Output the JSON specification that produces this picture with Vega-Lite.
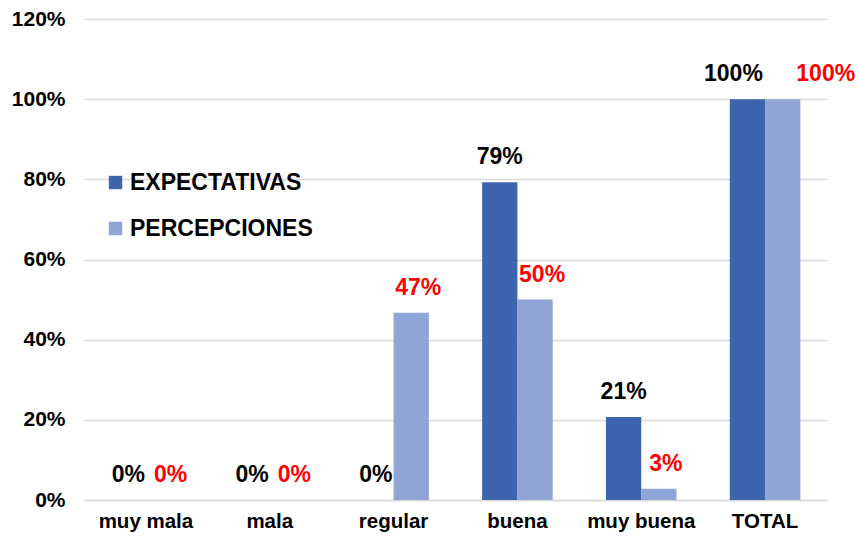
{
  "$schema": "https://vega.github.io/schema/vega-lite/v6.json",
  "autosize": "none",
  "width": 743,
  "height": 481,
  "padding": {"left": 84, "top": 19, "right": 32, "bottom": 37},
  "background": "white",
  "config": {
    "font": "Liberation Sans",
    "view": {"stroke": null}
  },
  "data": {
    "values": [
      {"categoria": "muy mala", "serie": "EXPECTATIVAS", "valor": 0},
      {"categoria": "mala", "serie": "EXPECTATIVAS", "valor": 0},
      {"categoria": "regular", "serie": "EXPECTATIVAS", "valor": 0},
      {"categoria": "buena", "serie": "EXPECTATIVAS", "valor": 0.793},
      {"categoria": "muy buena", "serie": "EXPECTATIVAS", "valor": 0.207},
      {"categoria": "TOTAL", "serie": "EXPECTATIVAS", "valor": 1.0},
      {"categoria": "muy mala", "serie": "PERCEPCIONES", "valor": 0},
      {"categoria": "mala", "serie": "PERCEPCIONES", "valor": 0},
      {"categoria": "regular", "serie": "PERCEPCIONES", "valor": 0.467},
      {"categoria": "buena", "serie": "PERCEPCIONES", "valor": 0.5},
      {"categoria": "muy buena", "serie": "PERCEPCIONES", "valor": 0.028},
      {"categoria": "TOTAL", "serie": "PERCEPCIONES", "valor": 1.0}
    ]
  },
  "encoding": {
    "x": {
      "field": "categoria",
      "type": "nominal",
      "sort": ["muy mala", "mala", "regular", "buena", "muy buena", "TOTAL"],
      "scale": {"paddingInner": 0.43, "paddingOuter": 0.215},
      "axis": {
        "title": null,
        "labelAngle": 0,
        "labelFont": "Liberation Sans",
        "labelFontSize": 20.5,
        "labelFontWeight": "bold",
        "labelColor": "#000000",
        "labelPadding": 11,
        "ticks": false,
        "domainColor": "#d9d9d9",
        "domainWidth": 1.5
      }
    },
    "xOffset": {
      "field": "serie",
      "type": "nominal",
      "sort": ["EXPECTATIVAS", "PERCEPCIONES"],
      "scale": {"paddingInner": 0, "paddingOuter": 0}
    },
    "y": {
      "field": "valor",
      "type": "quantitative",
      "scale": {"domain": [0, 1.2], "nice": false},
      "axis": {
        "title": null,
        "format": ".0%",
        "values": [0, 0.2, 0.4, 0.6, 0.8, 1.0, 1.2],
        "labelFont": "Liberation Sans",
        "labelFontSize": 21,
        "labelFontWeight": "bold",
        "labelColor": "#000000",
        "labelPadding": 19,
        "ticks": false,
        "domain": false,
        "gridColor": "#d9d9d9",
        "gridWidth": 1.3
      }
    }
  },
  "layer": [
    {
      "mark": {"type": "bar"},
      "encoding": {
        "color": {
          "field": "serie",
          "type": "nominal",
          "sort": ["EXPECTATIVAS", "PERCEPCIONES"],
          "scale": {"range": ["#3d64ad", "#8fa5d5"]},
          "legend": {
            "title": null,
            "orient": "none",
            "legendX": 20,
            "legendY": 152,
            "symbolType": "square",
            "symbolSize": 180,
            "symbolStrokeWidth": 0,
            "labelFont": "Liberation Sans",
            "labelFontSize": 23,
            "labelFontWeight": "bold",
            "labelColor": "#000000",
            "labelLimit": 400,
            "labelOffset": 3,
            "rowPadding": 22,
            "padding": 0
          }
        }
      }
    },
    {
      "transform": [{"filter": "datum.serie == 'EXPECTATIVAS' && datum.categoria != 'TOTAL'"}],
      "mark": {"type": "text", "font": "Liberation Sans", "fontSize": 23, "fontWeight": "bold", "color": "#000000", "baseline": "middle", "dy": -25},
      "encoding": {"text": {"field": "valor", "type": "quantitative", "format": ".0%"}}
    },
    {
      "transform": [{"filter": "datum.serie == 'PERCEPCIONES' && datum.categoria != 'TOTAL'"}],
      "mark": {"type": "text", "font": "Liberation Sans", "fontSize": 23, "fontWeight": "bold", "color": "#ff0000", "baseline": "middle", "dy": -25, "dx": 7},
      "encoding": {"text": {"field": "valor", "type": "quantitative", "format": ".0%"}}
    },
    {
      "transform": [{"filter": "datum.serie == 'EXPECTATIVAS' && datum.categoria == 'TOTAL'"}],
      "mark": {"type": "text", "font": "Liberation Sans", "fontSize": 23, "fontWeight": "bold", "color": "#000000", "baseline": "middle", "dy": -25, "dx": -14},
      "encoding": {"text": {"field": "valor", "type": "quantitative", "format": ".0%"}}
    },
    {
      "transform": [{"filter": "datum.serie == 'PERCEPCIONES' && datum.categoria == 'TOTAL'"}],
      "mark": {"type": "text", "font": "Liberation Sans", "fontSize": 23, "fontWeight": "bold", "color": "#ff0000", "baseline": "middle", "dy": -25, "dx": 43},
      "encoding": {"text": {"field": "valor", "type": "quantitative", "format": ".0%"}}
    }
  ]
}
